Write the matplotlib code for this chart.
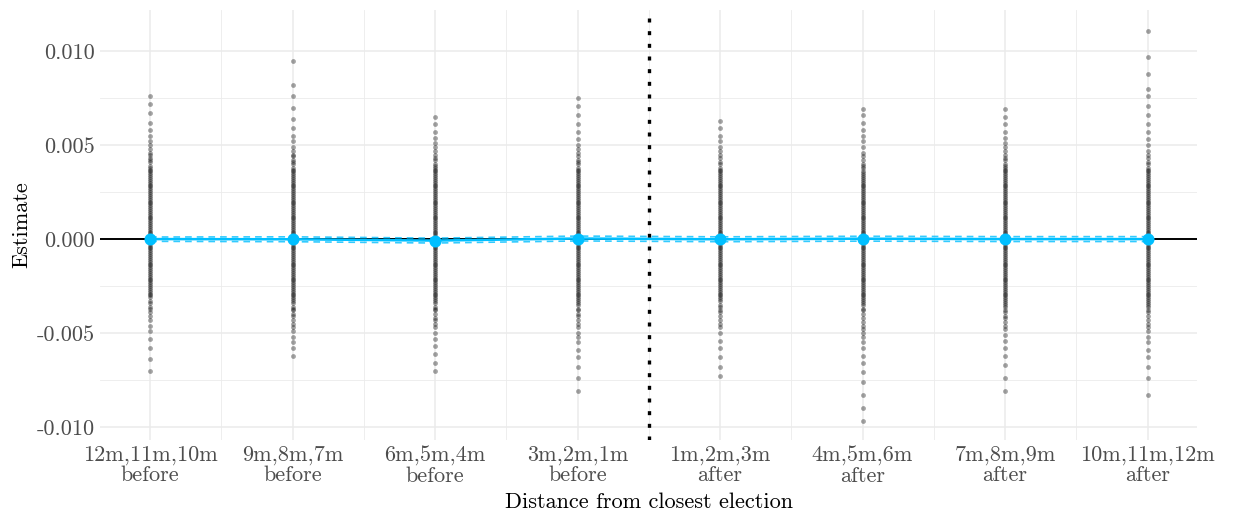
import numpy as np
import matplotlib
matplotlib.use('Agg')
import matplotlib.pyplot as plt

plt.rcParams['font.family'] = ['cmr10', 'DejaVu Serif']
plt.rcParams['axes.formatter.use_mathtext'] = True

periods = [1, 2, 3, 4, 5, 6, 7, 8]
tick_labels = ['12m,11m,10m\nbefore', '9m,8m,7m\nbefore', '6m,5m,4m\nbefore', '3m,2m,1m\nbefore',
               '1m,2m,3m\nafter', '4m,5m,6m\nafter', '7m,8m,9m\nafter', '10m,11m,12m\nafter']

# estimate and confidence bounds per period
est = [0.0, -0.00001, -0.00008, 0.00003, -0.00001, 0.00002, 0.0, 0.0]
ci_hi = [0.00011, 0.00012, 0.00005, 0.00016, 0.00012, 0.00015, 0.00013, 0.00013]
ci_lo = [-0.00012, -0.00014, -0.00021, -0.00010, -0.00014, -0.00011, -0.00013, -0.00013]

# placebo estimates per period, in units of 1e-4
c1 = [76, 72, 67, 62, 58, 55, 52, 50, 48, 46, 45, 43, 42, 41, 39, 38, 37, 36, 35, 34, 33, 32, 31, 30, 29, 28, 27, 26,
      25, 24, 23, 22, 21, 20, 19, 18, 17, 16, 15, 14, 13, 12, 11, 10, 9, 8, 7, 6, 5, 4, 3, 2, 1, 0, -1, -2, -3, -4,
      -5, -6, -7, -8, -9, -10, -11, -12, -13, -14, -15, -16, -17, -18, -19, -20, -21, -22, -23, -24, -25, -26, -27,
      -28, -29, -30, -31, -33, -34, -36, -37, -39, -41, -43, -46, -49, -53, -58, -64, -70]
c2 = [95, 82, 76, 70, 64, 59, 55, 52, 49, 47, 45, 44, 42, 41, 40, 38, 37, 36, 35, 34, 33, 32, 31, 30, 29, 28, 27, 26,
      25, 24, 23, 22, 21, 20, 19, 18, 17, 16, 15, 14, 13, 12, 11, 10, 9, 8, 7, 6, 5, 4, 3, 2, 1, 0, -1, -2, -3, -4,
      -5, -6, -7, -8, -9, -10, -11, -12, -13, -14, -15, -16, -17, -18, -19, -20, -21, -22, -23, -24, -25, -26, -27,
      -28, -29, -30, -31, -32, -33, -34, -36, -37, -38, -40, -41, -43, -45, -47, -49, -52, -55, -58, -62]
c3 = [65, 61, 57, 54, 51, 49, 47, 45, 43, 42, 40, 39, 38, 37, 36, 35, 34, 33, 32, 31, 30, 29, 28, 27, 26, 25, 24, 23,
      22, 21, 20, 19, 18, 17, 16, 15, 14, 13, 12, 11, 10, 9, 8, 7, 6, 5, 4, 3, 2, 1, 0, -1, -2, -3, -4, -5, -6, -7,
      -8, -9, -10, -11, -12, -13, -14, -15, -16, -17, -18, -19, -20, -21, -22, -23, -24, -25, -26, -27, -28, -29, -30,
      -31, -32, -33, -34, -36, -37, -38, -40, -42, -43, -45, -47, -50, -53, -57, -61, -66, -70]
c4 = [75, 71, 66, 61, 57, 53, 50, 48, 46, 44, 42, 41, 40, 38, 37, 36, 35, 34, 33, 32, 31, 30, 29, 28, 27, 26, 25, 24,
      23, 22, 21, 20, 19, 18, 17, 16, 15, 14, 13, 12, 11, 10, 9, 8, 7, 6, 5, 4, 3, 2, 1, 0, -1, -2, -3, -4, -5, -6,
      -7, -8, -9, -10, -11, -12, -13, -14, -15, -16, -17, -18, -19, -20, -21, -22, -23, -24, -25, -26, -27, -28, -29,
      -30, -31, -32, -33, -34, -35, -37, -38, -40, -41, -43, -45, -47, -50, -52, -55, -59, -63, -68, -74, -81]
c5 = [63, 59, 55, 52, 49, 47, 45, 43, 41, 40, 38, 37, 36, 35, 34, 33, 32, 31, 30, 29, 28, 27, 26, 25, 24, 23, 22, 21,
      20, 19, 18, 17, 16, 15, 14, 13, 12, 11, 10, 9, 8, 7, 6, 5, 4, 3, 2, 1, 0, -1, -2, -3, -4, -5, -6, -7, -8, -9,
      -10, -11, -12, -13, -14, -15, -16, -17, -18, -19, -20, -21, -22, -23, -24, -25, -26, -27, -28, -29, -30, -31,
      -32, -33, -35, -36, -38, -39, -41, -43, -45, -47, -50, -54, -58, -63, -68, -73]
c6 = [69, 66, 62, 58, 55, 52, 49, 46, 44, 42, 40, 39, 38, 36, 35, 34, 33, 32, 31, 30, 29, 28, 27, 26, 25, 24, 23, 22,
      21, 20, 19, 18, 17, 16, 15, 14, 13, 12, 11, 10, 9, 8, 7, 6, 5, 4, 3, 2, 1, 0, -1, -2, -3, -4, -5, -6, -7, -8,
      -9, -10, -11, -12, -13, -14, -15, -16, -17, -18, -19, -20, -21, -22, -23, -24, -25, -26, -27, -28, -29, -30,
      -31, -32, -33, -34, -35, -37, -38, -40, -42, -44, -46, -48, -50, -52, -55, -58, -62, -66, -71, -76, -83, -90, -97]
c7 = [69, 65, 61, 57, 54, 51, 49, 47, 45, 43, 42, 40, 39, 38, 37, 36, 35, 34, 33, 32, 31, 30, 29, 28, 27, 26, 25, 24,
      23, 22, 21, 20, 19, 18, 17, 16, 15, 14, 13, 12, 11, 10, 9, 8, 7, 6, 5, 4, 3, 2, 1, 0, -1, -2, -3, -4, -5, -6,
      -7, -8, -9, -10, -11, -12, -13, -14, -15, -16, -17, -18, -19, -20, -21, -22, -23, -24, -25, -26, -27, -28, -29,
      -30, -31, -32, -33, -34, -35, -36, -38, -39, -41, -42, -44, -46, -48, -51, -54, -58, -62, -67, -74, -81]
c8 = [111, 97, 88, 80, 76, 71, 66, 61, 57, 53, 50, 47, 45, 43, 41, 40, 38, 37, 36, 35, 34, 33, 32, 31, 30, 29, 28,
      27, 26, 25, 24, 23, 22, 21, 20, 19, 18, 17, 16, 15, 14, 13, 12, 11, 10, 9, 8, 7, 6, 5, 4, 3, 2, 1, 0, -1, -2,
      -3, -4, -5, -6, -7, -8, -9, -10, -11, -12, -13, -14, -15, -16, -17, -18, -19, -20, -21, -22, -23, -24, -25, -26,
      -27, -28, -29, -30, -31, -32, -33, -34, -35, -36, -38, -39, -41, -43, -45, -47, -49, -52, -55, -59, -63, -68,
      -74, -83]
placebo = [c1, c2, c3, c4, c5, c6, c7, c8]

blue = '#00BFFF'

fig = plt.figure(figsize=(12.37, 5.19), dpi=100)
ax = fig.add_axes([0.081, 0.152, 0.887, 0.829])

for p, vals in zip(periods, placebo):
    y = np.array(vals) * 1e-4
    ax.scatter([p] * len(y), y, s=12, color='black', alpha=0.36, linewidths=0, zorder=2)

ax.axhline(0, color='black', lw=1.4, zorder=3)
ax.axvline(4.5, color='black', lw=2.4, linestyle=(0, (1.2, 2.6)), zorder=3)

ax.plot(periods, ci_hi, color=blue, lw=1.2, linestyle=(0, (4, 3)), alpha=0.8, zorder=4)
ax.plot(periods, ci_lo, color=blue, lw=1.2, linestyle=(0, (4, 3)), alpha=0.8, zorder=4)
ax.plot(periods, est, color=blue, lw=1.8, zorder=5)
ax.scatter(periods, est, s=75, color=blue, linewidths=0, zorder=6)

ax.set_xlim(0.65, 8.35)
ax.set_ylim(-0.0107, 0.0122)
ax.set_xticks(periods)
ax.set_xticklabels(tick_labels, linespacing=1.05)
ax.set_xticks([1.5, 2.5, 3.5, 4.5, 5.5, 6.5, 7.5], minor=True)
ax.set_yticks([-0.010, -0.005, 0.0, 0.005, 0.010])
ax.set_yticklabels(['-0.010', '-0.005', '0.000', '0.005', '0.010'])
ax.set_yticks([-0.0075, -0.0025, 0.0025, 0.0075], minor=True)

ax.grid(which='major', color='#EBEBEB', lw=1.1)
ax.grid(which='minor', color='#EBEBEB', lw=0.6)
ax.set_axisbelow(True)
for s in ax.spines.values():
    s.set_visible(False)
ax.tick_params(which='both', length=0, labelsize=16, labelcolor='#4D4D4D')
ax.tick_params(axis='x', pad=4)
ax.tick_params(axis='y', pad=4)

ax.set_xlabel('Distance from closest election', fontsize=16, labelpad=5)
ax.set_ylabel('Estimate', fontsize=16, labelpad=4)

fig.savefig('out.png', dpi=100, facecolor='white')
